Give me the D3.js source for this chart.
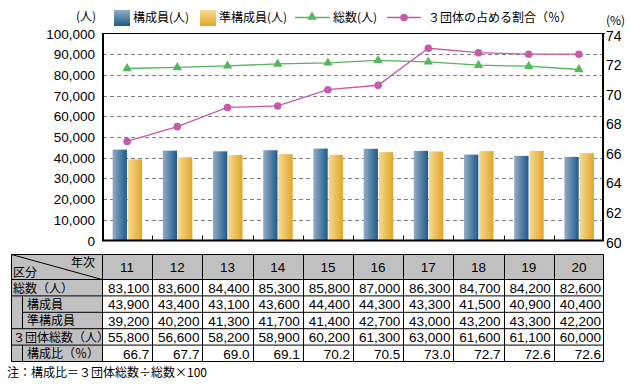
<!DOCTYPE html>
<meta charset="utf-8">
<style>
body { margin: 0; background: #fff; }
svg { display: block; font-family: "Liberation Sans", Arial, sans-serif; }
.jp { font-family: "Noto Sans CJK JP", sans-serif; font-size: 12px; }
.num { font-size: 13.5px; }
</style>
<body>
<script src="https://d3js.org/d3.v7.min.js"></script>
<script>

// data (year of Heisei)
var years      = ["11", "12", "13", "14", "15", "16", "17", "18", "19", "20"];
var total      = [83100, 83600, 84400, 85300, 85800, 87000, 86300, 84700, 84200, 82600];
var members    = [43900, 43400, 43100, 43600, 44400, 44300, 43300, 41500, 40900, 40400];
var semi       = [39200, 40200, 41300, 41700, 41400, 42700, 43000, 43200, 43300, 42200];
var groupTotal = [55800, 56600, 58200, 58900, 60200, 61300, 63000, 61600, 61100, 60000];
var ratio      = [66.7, 67.7, 69.0, 69.1, 70.2, 70.5, 73.0, 72.7, 72.6, 72.6];

var leftTicks  = [0, 10000, 20000, 30000, 40000, 50000, 60000, 70000, 80000, 90000, 100000];
var rightTicks = [60, 62, 64, 66, 68, 70, 72, 74];

var rowLabels = ["総数（人）", "構成員", "準構成員", "３団体総数（人）", "構成比（％）"];
var rowIndent = [0, 1, 1, 0, 1];
var rowData   = [total, members, semi, groupTotal, ratio];

var svg = d3.select("body").append("svg")
    .attr("width", 644)
    .attr("height", 388);

var defs = svg.append("defs");
function grad(id, c0, c1, vertical) {
    var g = defs.append("linearGradient").attr("id", id)
        .attr("x1", 0).attr("y1", 0)
        .attr("x2", vertical ? 0 : 1).attr("y2", vertical ? 1 : 0);
    g.append("stop").attr("offset", "0%").attr("stop-color", c0);
    g.append("stop").attr("offset", "100%").attr("stop-color", c1);
}
grad("blueH", "#93adc5", "#1d5a8b", false);
grad("goldH", "#f5da93", "#e3a629", false);
grad("blueV", "#93adc5", "#1d5a8b", true);
grad("goldV", "#f5da93", "#e3a629", true);

// scales
var plotTop = 33.5, plotBottom = 240.5;
var x = d3.scaleBand().domain(years).range([102, 604]);
var xSub = d3.scaleBand().domain(["m", "s"])
    .range([x.bandwidth() / 2 - 14.5, x.bandwidth() / 2 + 15]).paddingInner(0.06);
var yL = d3.scaleLinear().domain([0, 100000]).range([plotBottom, plotTop]);
var yR = d3.scaleLinear().domain([60, 74]).range([plotBottom, plotTop]);
var cx = function(i) { return x(years[i]) + x.bandwidth() / 2; };

// gridlines
svg.append("g").selectAll("line")
    .data(leftTicks.filter(function(t) { return t > 0 && t < 100000; }))
  .enter().append("line")
    .attr("x1", 103).attr("x2", 604)
    .attr("y1", function(d) { return Math.round(yL(d)) + 0.5; })
    .attr("y2", function(d) { return Math.round(yL(d)) + 0.5; })
    .attr("stroke", "#808080")
    .attr("stroke-dasharray", "4,3");

// left labels
svg.append("g").selectAll("text")
    .data(leftTicks)
  .enter().append("text")
    .attr("x", 95)
    .attr("y", function(d) { return yL(d) + 5; })
    .attr("text-anchor", "end")
    .style("font-size", "13.5px")
    .text(d3.format(","));

svg.append("text").attr("class", "jp")
    .attr("x", 96).attr("y", 21).attr("text-anchor", "end")
    .text("(人)");

// right labels
svg.append("g").selectAll("text")
    .data(rightTicks)
  .enter().append("text")
    .attr("x", 606)
    .attr("y", function(d) { return yR(d) + 7; })
    .style("font-size", "14px")
    .text(function(d) { return d; });

svg.append("text").attr("class", "jp")
    .attr("x", 606).attr("y", 25)
    .text("(%)");

// bars
var bars = svg.append("g");
years.forEach(function(yr, i) {
    bars.append("rect")
        .attr("x", x(yr) + xSub("m")).attr("width", xSub.bandwidth())
        .attr("y", yL(members[i])).attr("height", plotBottom - yL(members[i]))
        .attr("fill", "url(#blueH)");
    bars.append("rect")
        .attr("x", x(yr) + xSub("s")).attr("width", xSub.bandwidth())
        .attr("y", yL(semi[i])).attr("height", plotBottom - yL(semi[i]))
        .attr("fill", "url(#goldH)");
});

// frame
svg.append("line").attr("x1", 102).attr("x2", 605).attr("y1", 33.5).attr("y2", 33.5)
    .attr("stroke", "#000");
svg.append("path")
    .attr("d", "M103," + plotTop + "V" + (plotBottom) + "H603V" + plotTop)
    .attr("fill", "none").attr("stroke", "#000").attr("stroke-width", 2);

// bottom ticks
svg.append("g").selectAll("line")
    .data(years.slice(1))
  .enter().append("line")
    .attr("x1", function(d) { return Math.round(x(d)) + 0.5; })
    .attr("x2", function(d) { return Math.round(x(d)) + 0.5; })
    .attr("y1", plotBottom).attr("y2", plotBottom - 5)
    .attr("stroke", "#000");

// lines
var green = "#55b65a", pink = "#c659a9";
var lineTotal = d3.line().x(function(d, i) { return cx(i); }).y(function(d) { return yL(d); });
var lineRatio = d3.line().x(function(d, i) { return cx(i); }).y(function(d) { return yR(d); });

svg.append("path").attr("d", lineTotal(total))
    .attr("fill", "none").attr("stroke", green).attr("stroke-width", 1.3);
svg.append("path").attr("d", lineRatio(ratio))
    .attr("fill", "none").attr("stroke", pink).attr("stroke-width", 1.3);

var tri = d3.symbol().type(d3.symbolTriangle).size(38);
svg.append("g").selectAll("path")
    .data(total)
  .enter().append("path")
    .attr("d", tri)
    .attr("transform", function(d, i) { return "translate(" + cx(i) + "," + yL(d) + ")"; })
    .attr("fill", green);

svg.append("g").selectAll("circle")
    .data(ratio)
  .enter().append("circle")
    .attr("cx", function(d, i) { return cx(i); })
    .attr("cy", function(d) { return yR(d); })
    .attr("r", 3.8)
    .attr("fill", pink);

// legend
var lg = svg.append("g");
lg.append("rect").attr("x", 114).attr("y", 10).attr("width", 16).attr("height", 16).attr("fill", "url(#blueV)");
lg.append("text").attr("class", "jp").attr("x", 133).attr("y", 22).text("構成員(人)");
lg.append("rect").attr("x", 200).attr("y", 10).attr("width", 16).attr("height", 16).attr("fill", "url(#goldV)");
lg.append("text").attr("class", "jp").attr("x", 219).attr("y", 22).text("準構成員(人)");
lg.append("line").attr("x1", 295).attr("x2", 330).attr("y1", 17.5).attr("y2", 17.5)
    .attr("stroke", green).attr("stroke-width", 1.3);
lg.append("path").attr("d", tri).attr("transform", "translate(312,17)").attr("fill", green);
lg.append("text").attr("class", "jp").attr("x", 333).attr("y", 22).text("総数(人)");
lg.append("line").attr("x1", 387).attr("x2", 421).attr("y1", 17.5).attr("y2", 17.5)
    .attr("stroke", pink).attr("stroke-width", 1.3);
lg.append("circle").attr("cx", 404).attr("cy", 17.5).attr("r", 3.8).attr("fill", pink);
lg.append("text").attr("class", "jp").attr("x", 428).attr("y", 22).text("３団体の占める割合（％）");

// table
var tLeft = 11.5, tRight = 603.5, tTop = 254.5, headBottom = 279.5, indentX = 22.5;
var yRow = d3.scaleBand().domain(d3.range(rowData.length)).range([headBottom, 361.5]);
var tRows = yRow.range()[1];
var gray = "#c0c0c0";
var tbl = svg.append("g");

tbl.append("rect").attr("x", tLeft).attr("y", tTop)
    .attr("width", tRight - tLeft).attr("height", headBottom - tTop).attr("fill", gray);
tbl.append("rect").attr("x", tLeft).attr("y", headBottom)
    .attr("width", x.range()[0] - tLeft).attr("height", tRows - headBottom).attr("fill", gray);

defs.append("clipPath").attr("id", "leftCol").append("rect")
    .attr("x", tLeft).attr("y", tTop).attr("width", x.range()[0] - tLeft).attr("height", tRows - tTop);

var strokeLine = function(x1, y1, x2, y2) {
    tbl.append("line").attr("x1", x1).attr("y1", y1).attr("x2", x2).attr("y2", y2)
        .attr("stroke", "#000");
};

// header
strokeLine(tLeft, tTop, tRight, tTop);
strokeLine(tLeft, headBottom, tRight, headBottom);
strokeLine(tLeft, tTop, x.range()[0], headBottom);
tbl.append("text").attr("class", "jp").attr("x", 95).attr("y", 267).attr("text-anchor", "end").text("年次");
tbl.append("text").attr("class", "jp").attr("x", 13).attr("y", 277).text("区分");
tbl.selectAll(".yr").data(years).enter().append("text")
    .attr("class", "num")
    .attr("x", function(d) { return x(d) + x.bandwidth() / 2; })
    .attr("y", 272)
    .attr("text-anchor", "middle")
    .text(function(d) { return d; });

// vertical lines
strokeLine(tLeft, tTop, tLeft, tRows);
x.domain().forEach(function(d) {
    var xx = Math.round(x(d)) + 0.5;
    strokeLine(xx, tTop, xx, tRows);
});
strokeLine(tRight, tTop, tRight, tRows);

// rows
var fmtInt = d3.format(","), fmtDec = d3.format(".1f");
rowData.forEach(function(vals, r) {
    var top = yRow(r);
    if (r > 0) {
        var start = (rowIndent[r] && rowIndent[r - 1]) ? indentX : tLeft;
        strokeLine(start, top, tRight, top);
    }
    if (rowIndent[r]) strokeLine(indentX, top, indentX, top + yRow.bandwidth());
    tbl.append("text").attr("class", "jp")
        .attr("clip-path", "url(#leftCol)")
        .attr("x", rowIndent[r] ? 27 : 13)
        .attr("y", top + 13)
        .text(rowLabels[r]);
    tbl.selectAll(".v" + r).data(vals).enter().append("text")
        .attr("class", "num")
        .attr("x", function(d, i) { return x(years[i]) + x.bandwidth() - 3; })
        .attr("y", top + 13.5)
        .attr("text-anchor", "end")
        .text(function(d) { return r === 4 ? fmtDec(d) : fmtInt(d); });
});
strokeLine(tLeft, tRows, tRight, tRows);

svg.append("text").attr("class", "jp")
    .attr("x", 7).attr("y", 377)
    .text("注：構成比＝３団体総数÷総数×100");

</script>
</body>
